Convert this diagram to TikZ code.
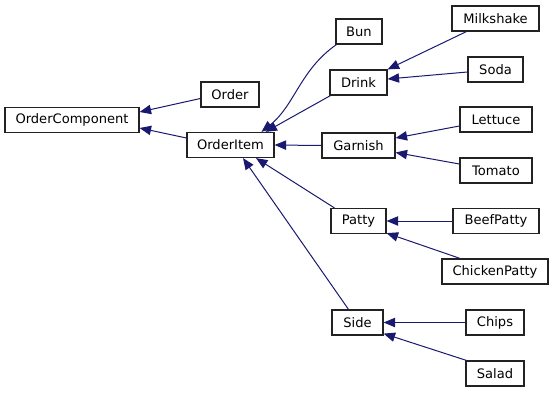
\documentclass[tikz,border=0pt]{standalone}
\usepackage{fontspec}
\setmainfont{DejaVu Sans}
\usetikzlibrary{arrows.meta,calc}
\definecolor{edgeblue}{HTML}{191970}
\definecolor{boxline}{HTML}{222222}
\begin{document}
\begin{tikzpicture}[x=0.75pt,y=-0.75pt,
  cls/.style={draw=boxline,fill=white,line width=0.9pt,rectangle,inner sep=0pt,
    minimum height=25*0.75pt,font=\fontsize{9.8pt}{11pt}\selectfont},
  inherit/.style={draw=edgeblue,line width=0.75pt,
    -{Triangle[length=8.6pt,width=7pt,fill=edgeblue]}}]
\useasboundingbox (0,0) rectangle (555,392);
% classes (centre position, box width in px)
\node[cls,minimum width=134*0.75pt] (oc) at (72,120) {OrderComponent};
\node[cls,minimum width=58*0.75pt] (order) at (230,94.5) {Order};
\node[cls,minimum width=87*0.75pt] (item) at (230.5,145) {OrderItem};
\node[cls,minimum width=46*0.75pt] (bun) at (359,31.5) {Bun};
\node[cls,minimum width=57*0.75pt] (drink) at (358.5,82.5) {Drink};
\node[cls,minimum width=87*0.75pt] (milk) at (495.5,18.5) {Milkshake};
\node[cls,minimum width=55*0.75pt] (soda) at (495.5,69.5) {Soda};
\node[cls,minimum width=73*0.75pt] (garnish) at (358.5,145.5) {Garnish};
\node[cls,minimum width=72*0.75pt] (lettuce) at (496,119.5) {Lettuce};
\node[cls,minimum width=72*0.75pt] (tomato) at (496,170.5) {Tomato};
\node[cls,minimum width=55*0.75pt] (patty) at (358.5,221) {Patty};
\node[cls,minimum width=86*0.75pt] (beef) at (496,221) {BeefPatty};
\node[cls,minimum width=106*0.75pt] (chicken) at (495,271.5) {ChickenPatty};
\node[cls,minimum width=51*0.75pt] (side) at (357.5,322.5) {Side};
\node[cls,minimum width=58*0.75pt] (chips) at (495,322.5) {Chips};
\node[cls,minimum width=58*0.75pt] (salad) at (495,373.5) {Salad};
% inheritance edges, arrow at the base class
\draw[inherit] ($(order.west)+(0,4)$) -- ($(oc.east)+(0,-8)$);
\draw[inherit] ($(item.west)+(0,-7)$) -- ($(oc.east)+(0,8)$);
\draw[inherit] ($(bun.south west)+(1,0)$) .. controls (300,70) and (295,105) .. ($(item.north)+(31,0)$);
\draw[inherit] ($(drink.south west)+(1,0)$) -- ($(item.north)+(35,0)$);
\draw[inherit] (garnish.west) -- (item.east);
\draw[inherit] ($(patty.north west)+(4,0)$) -- ($(item.south)+(25.5,0)$);
\draw[inherit] ($(side.north)+(-9,0)$) -- ($(item.south)+(12.5,0)$);
\draw[inherit] ($(milk.south west)+(15,0)$) -- ($(drink.north east)+(0,0)$);
\draw[inherit] ($(soda.west)+(0,2.5)$) -- ($(drink.east)+(0,-3.5)$);
\draw[inherit] ($(lettuce.west)+(0,6.5)$) -- ($(garnish.east)+(0,-7.5)$);
\draw[inherit] ($(tomato.west)+(0,-6.5)$) -- ($(garnish.east)+(0,7)$);
\draw[inherit] (beef.west) -- (patty.east);
\draw[inherit] ($(chicken.north)+(-35,0)$) -- ($(patty.south east)+(0,-1)$);
\draw[inherit] (chips.west) -- (side.east);
\draw[inherit] ($(salad.north west)+(1,0)$) -- ($(side.south east)+(0,-2)$);
\end{tikzpicture}
\end{document}
